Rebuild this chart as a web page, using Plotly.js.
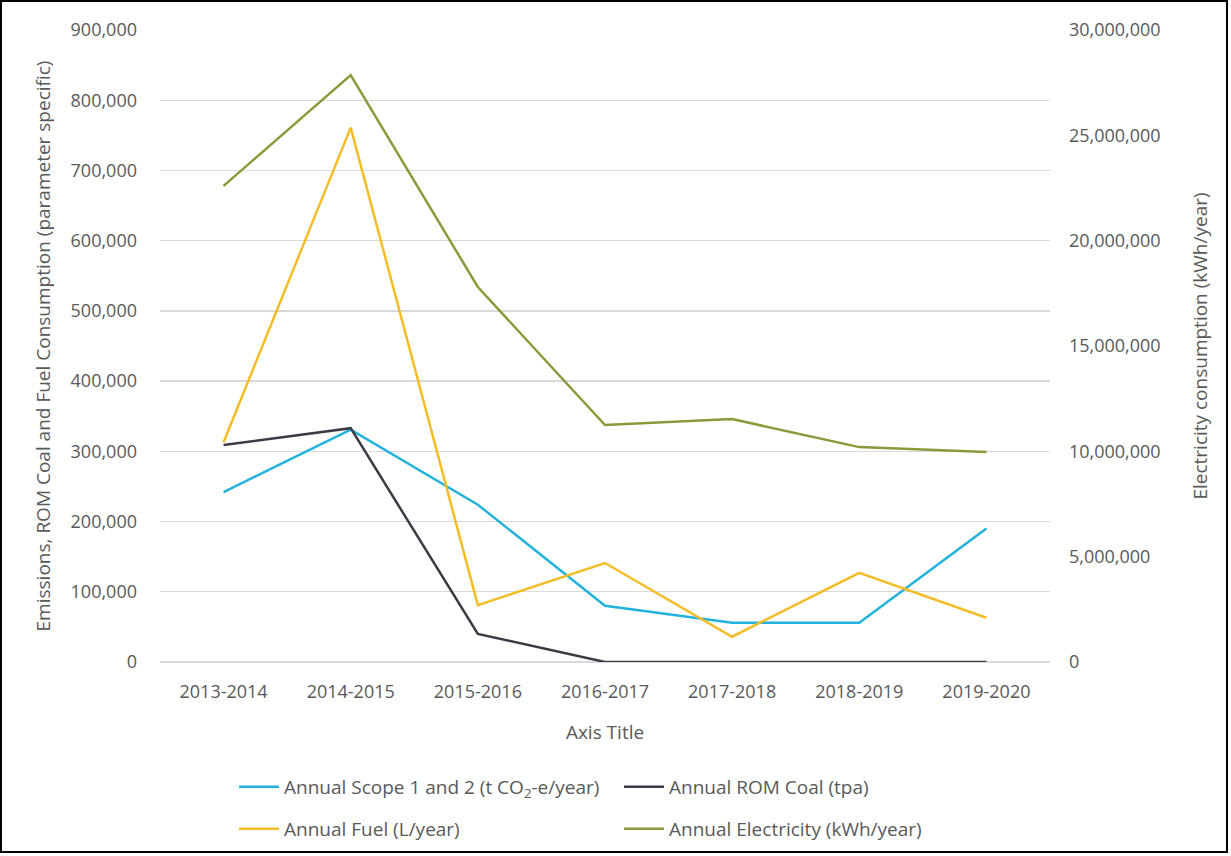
<!DOCTYPE html>
<html>
<head>
<meta charset="utf-8">
<script src="https://cdn.plot.ly/plotly-3.0.1.min.js"></script>
<style>
  html, body { margin: 0; padding: 0; background: #fff; }
  #wrap { position: relative; width: 1231px; height: 856px; }
  #chart { width: 1231px; height: 856px; }
  #frame { position: absolute; left: 0; top: 0; width: 1228px; height: 853px;
           border: 2px solid #000; box-sizing: border-box; pointer-events: none; }
</style>
</head>
<body>
<div id="wrap">
  <div id="chart"></div>
  <div id="frame"></div>
</div>
<script>
// Financial years on the category axis
const years = ['2013-2014', '2014-2015', '2015-2016', '2016-2017', '2017-2018', '2018-2019', '2019-2020'];

// Left-axis series
const scopeEmissions = [242000, 331000, 224000, 80000, 56000, 56000, 190000];   // t CO2-e/year
const romCoal        = [309000, 333000, 40000, 0, 0, 0, 0];                     // tpa
const fuelUse        = [313000, 761000, 81000, 141000, 36000, 127000, 63000];   // L/year

// Right-axis series
const electricity    = [22600000, 27860000, 17800000, 11250000, 11530000, 10200000, 9970000]; // kWh/year

const seriesNames = [
  'Annual Scope 1 and 2 (t CO<sub>2</sub>-e/year)',
  'Annual ROM Coal (tpa)',
  'Annual Fuel (L/year)',
  'Annual Electricity (kWh/year)'
];

const leftTicks  = [0, 100000, 200000, 300000, 400000, 500000, 600000, 700000, 800000, 900000];
const rightTicks = [0, 5000000, 10000000, 15000000, 20000000, 25000000, 30000000];

const fmt = v => v.toLocaleString('en-US');
const txt = '#595959';
const fontFam = 'Open Sans, Liberation Sans, sans-serif';
const tickFont  = { family: fontFam, size: 18, color: txt };
const titleFont = { family: fontFam, size: 19, color: txt };

const traces = [
  { x: years, y: scopeEmissions, name: seriesNames[0], type: 'scatter', mode: 'lines',
    line: { color: '#22b2dd', width: 2.5 }, legend: 'legend' },
  { x: years, y: romCoal, name: seriesNames[1], type: 'scatter', mode: 'lines',
    line: { color: '#3b3b45', width: 2.5 }, legend: 'legend' },
  { x: years, y: fuelUse, name: seriesNames[2], type: 'scatter', mode: 'lines',
    line: { color: '#f4bd28', width: 2.5 }, legend: 'legend2' },
  { x: years, y: electricity, name: seriesNames[3], type: 'scatter', mode: 'lines', yaxis: 'y2',
    line: { color: '#8a9a3b', width: 2.5 }, legend: 'legend2' }
];

const legendCommon = {
  orientation: 'h', xref: 'container', yref: 'container',
  xanchor: 'left', yanchor: 'middle',
  entrywidth: 330, entrywidthmode: 'pixels',
  font: { family: fontFam, size: 19, color: txt },
  bgcolor: 'rgba(0,0,0,0)', itemwidth: 40, tracegroupgap: 0
};

const layout = {
  width: 1231, height: 856,
  margin: { l: 160, r: 181, t: 30, b: 194 },
  paper_bgcolor: '#fff', plot_bgcolor: '#fff',
  font: { family: fontFam, size: 18, color: txt },
  showlegend: true,
  legend:  Object.assign({}, legendCommon, { x: 234 / 1231, y: 1 - 787 / 856 }),
  legend2: Object.assign({}, legendCommon, { x: 234 / 1231, y: 1 - 829 / 856 }),
  xaxis: {
    type: 'category', range: [-0.5, 6.5],
    showgrid: false, zeroline: false, showline: false, ticks: '',
    ticklabelstandoff: 17,
    tickfont: tickFont,
    title: { text: 'Axis Title', standoff: 23, font: titleFont }
  },
  yaxis: {
    range: [0, 900000], tickvals: leftTicks, ticktext: leftTicks.map(fmt),
    showgrid: true, gridcolor: '#d9d9d9', gridwidth: 1.3,
    zeroline: true, zerolinecolor: '#d9d9d9', zerolinewidth: 1.3,
    showline: false, ticks: '', ticklabelstandoff: 22,
    tickfont: tickFont,
    title: { text: 'Emissions, ROM Coal and Fuel Consumption (parameter specific)', standoff: 14,
             font: titleFont }
  },
  yaxis2: {
    overlaying: 'y', side: 'right',
    range: [0, 30000000], tickvals: rightTicks, ticktext: rightTicks.map(fmt),
    showgrid: false, zeroline: false, showline: false, ticks: '', ticklabelstandoff: 18,
    tickfont: tickFont,
    title: { text: 'Electricity consumption (kWh/year)', standoff: 34, font: titleFont }
  }
};

Plotly.newPlot('chart', traces, layout, { displayModeBar: false, staticPlot: true });
</script>
</body>
</html>
